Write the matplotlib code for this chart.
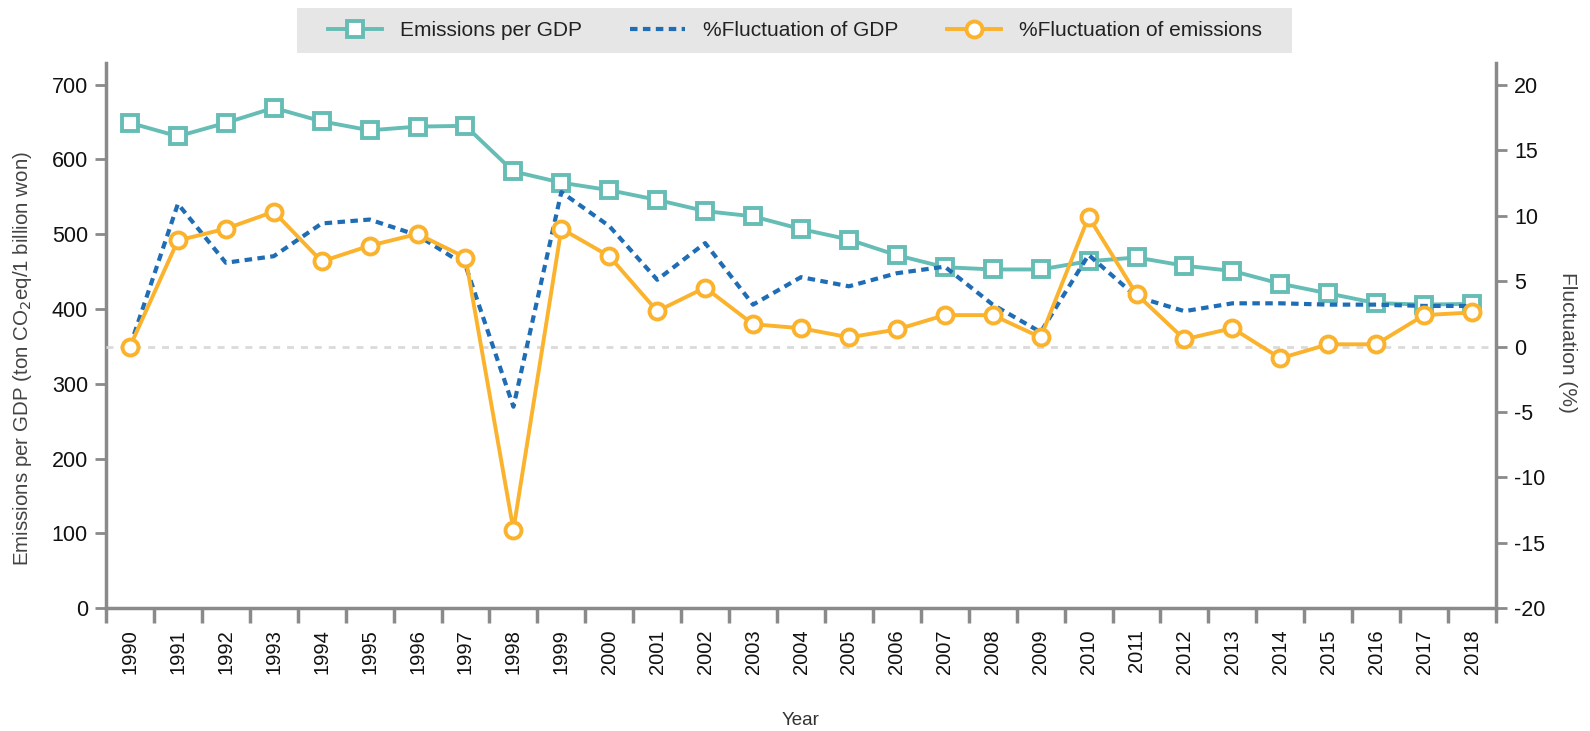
import matplotlib
matplotlib.use('Agg')
import matplotlib.pyplot as plt
from matplotlib.patches import Rectangle
from matplotlib.ticker import FixedLocator, NullFormatter

plt.rcParams['font.family'] = ['Liberation Sans', 'DejaVu Sans']
plt.rcParams['axes.unicode_minus'] = False

years = list(range(1990, 2019))

# emissions per GDP (ton CO2eq / 1 billion won), left axis
emis_per_gdp = [649, 631, 649, 669, 651, 639, 644, 645, 584, 569,
                559, 546, 531, 524, 507, 493, 472, 456, 453, 453,
                464, 469, 458, 451, 434, 421, 408, 406, 407]

# % fluctuation of GDP, right axis
fluct_gdp = [0.0, 10.9, 6.4, 6.9, 9.4, 9.7, 8.5, 6.2, -4.6, 11.8,
             9.2, 5.1, 7.9, 3.2, 5.3, 4.6, 5.6, 6.1, 3.2, 1.1,
             7.0, 3.8, 2.7, 3.3, 3.3, 3.2, 3.2, 3.1, 3.1]

# % fluctuation of emissions, right axis
fluct_emis = [0.0, 8.1, 9.0, 10.3, 6.5, 7.7, 8.6, 6.8, -14.0, 9.0,
              6.9, 2.7, 4.5, 1.7, 1.4, 0.7, 1.3, 2.4, 2.4, 0.7,
              9.9, 4.0, 0.55, 1.4, -0.9, 0.17, 0.17, 2.4, 2.6]

teal = '#66bdb5'
blue = '#1f6db5'
orange = '#fbb22c'
axis_gray = '#8a8a8a'

W, H = 1590, 731
fig = plt.figure(figsize=(W / 100, H / 100), dpi=100)
ax = fig.add_axes([106 / W, 1 - 608.3 / H, 1390 / W, 545.3 / H])
ax2 = ax.twinx()

ax.plot(years, emis_per_gdp, color=teal, lw=2.8, marker='s', ms=11.5,
        mfc='white', mec=teal, mew=2.8, label='Emissions per GDP', zorder=3)
ax2.axhline(0, color='#dadada', lw=2, dashes=(2.5, 2.5), zorder=1)
ax2.plot(years, fluct_gdp, color=blue, lw=3, linestyle=(0, (1.8, 1.3)),
         dash_capstyle='butt', label='%Fluctuation of GDP', zorder=3)
ax2.plot(years, fluct_emis, color=orange, lw=2.8, marker='o', ms=11.5,
         mfc='white', mec=orange, mew=2.8, label='%Fluctuation of emissions', zorder=4)

ax.set_xlim(1989.5, 2018.5)
ax.set_ylim(0, 729)
ax2.set_ylim(-20, 21.66)
ax.set_yticks(range(0, 701, 100))
ax2.set_yticks(range(-20, 21, 5))

# year labels centred in each slot, tick marks on slot boundaries
ax.set_xticks(years)
ax.set_xticklabels([str(y) for y in years], rotation=90)
ax.xaxis.set_minor_locator(FixedLocator([y - 0.5 for y in years] + [2018.5]))
ax.xaxis.set_minor_formatter(NullFormatter())
ax.tick_params(axis='x', which='major', length=0, pad=15, labelsize=14.5, labelcolor='#111111')
ax.tick_params(axis='x', which='minor', length=11, width=2.5, color=axis_gray)

ax.tick_params(axis='y', length=8, width=2, color=axis_gray, labelsize=15.5, labelcolor='#111111', pad=5)
ax2.tick_params(axis='y', length=8, width=2, color=axis_gray, labelsize=15.5, labelcolor='#111111', pad=5)

for a in (ax, ax2):
    for s in a.spines.values():
        s.set_visible(False)
for s in (ax.spines['left'], ax.spines['bottom'], ax2.spines['right']):
    s.set_visible(True)
    s.set_color(axis_gray)
    s.set_linewidth(2.5)

ax.set_ylabel('Emissions per GDP (ton CO$_2$eq/1 billion won)', fontsize=14.8, color='#444444')
ax.yaxis.set_label_coords((34 - 106) / 1390, 0.459)
ax2.set_ylabel('Fluctuation (%)', fontsize=15, color='#444444', rotation=270, va='center')
ax2.yaxis.set_label_coords((1568 - 106) / 1390, 0.487)
ax.set_xlabel('Year', fontsize=13.5, color='#333333', labelpad=27)

# legend on a grey band above the plot
fig.patches.append(Rectangle((297 / W, 1 - 53 / H), 995 / W, 45 / H, transform=fig.transFigure,
                             facecolor='#e6e6e6', edgecolor='none', zorder=0))
h1, l1 = ax.get_legend_handles_labels()
h2, l2 = ax2.get_legend_handles_labels()
leg = fig.legend(h1 + h2, l1 + l2, loc='center', bbox_to_anchor=(795 / W, 1 - 30.5 / H),
                 ncol=3, fontsize=15, frameon=False, handlelength=2.6,
                 handletextpad=0.9, columnspacing=2.3, borderaxespad=0)
for t in leg.get_texts():
    t.set_color('#222222')

fig.savefig('out.png', dpi=100)
